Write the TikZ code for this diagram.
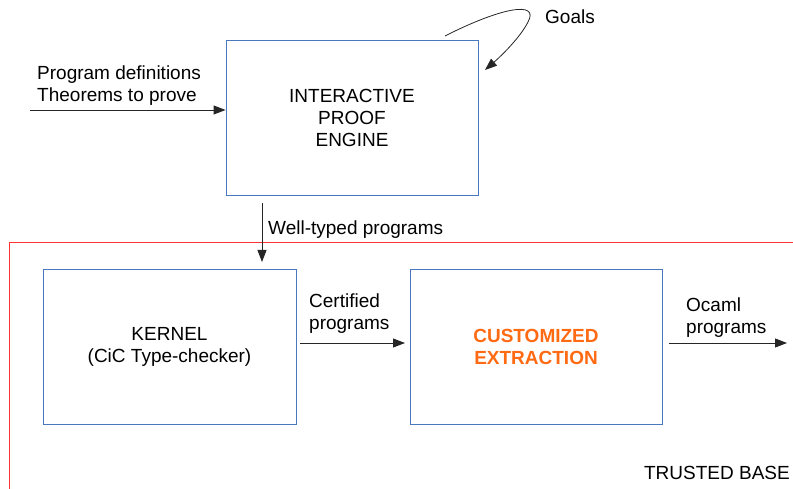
\documentclass[tikz,border=0pt]{standalone}
\usepackage{fontspec}
\setmainfont{Liberation Sans}
\usetikzlibrary{arrows.meta}
\definecolor{boxblue}{HTML}{4A78BE}
\definecolor{trustred}{HTML}{FF3333}
\definecolor{extorange}{HTML}{FF6A13}
\begin{document}
\begin{tikzpicture}[x=1pt,y=-1pt,
  every node/.style={font=\fontsize{19}{22}\selectfont, inner sep=0pt},
  blockbox/.style={draw=boxblue, line width=0.9pt, minimum width=252pt, minimum height=155pt, align=center},
  flow/.style={draw=black!85, line width=0.9pt, -{Triangle[length=12pt,width=9pt]}},
  lbl/.style={align=left, anchor=west}]
\useasboundingbox (0,0) rectangle (793,489);
% trusted base border
\draw[trustred, line width=0.8pt] (9,489) -- (9,242) -- (793,242);
\node[anchor=east] (tb) at (790,473) {TRUSTED BASE};
% boxes
\node[blockbox] (engine) at (352,117.5) {INTERACTIVE\\PROOF\\ENGINE};
\node[blockbox, minimum width=253pt] (kernel) at (169.5,346.5) {KERNEL\\(CiC Type-checker)};
\node[blockbox, font=\fontsize{19}{22}\selectfont\bfseries, text=extorange] (extr) at (536,346.5) {CUSTOMIZED\\EXTRACTION};
% input
\coordinate (inA) at (30,110);
\draw[flow] (inA) -- (engine.west |- inA);
\node[lbl] (inlbl) at (37,86) {Program definitions\\Theorems to prove};
% goals loop
\coordinate (gS) at (445,36);
\coordinate (gE) at (485,70);
\draw[flow, line width=0.8pt] (gS) .. controls (500,8) and (540,0) .. (528,22) .. controls (520,38) and (500,57) .. (gE);
\node[anchor=west] (goals) at (545,17) {Goals};
% down arrow
\coordinate (dS) at (262,203);
\draw[flow] (dS) -- (262,262);
\node[anchor=west] (wt) at (268,230) {Well-typed programs};
% certified
\coordinate (cS) at (300,343);
\coordinate (cE) at (405,343);
\draw[flow] (cS) -- (cE);
\node[lbl] (cert) at (309,314) {Certified\\programs};
% ocaml
\coordinate (oS) at (669,343);
\coordinate (oE) at (787,343);
\draw[flow] (oS) -- (oE);
\node[lbl] (ocaml) at (686,318) {Ocaml\\programs};
\end{tikzpicture}
\end{document}
